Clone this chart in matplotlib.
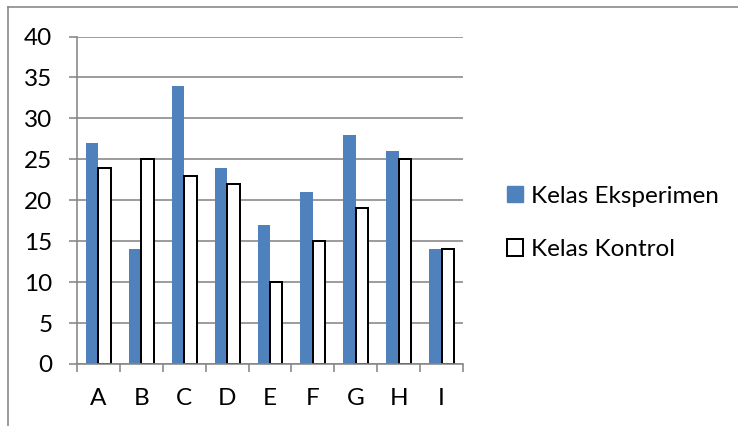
import numpy as np
import matplotlib
matplotlib.use("Agg")
import matplotlib.pyplot as plt
from matplotlib.lines import Line2D
import matplotlib.patches as mpatches

categories = ["A", "B", "C", "D", "E", "F", "G", "H", "I"]
eksperimen = [27, 14, 34, 24, 17, 21, 28, 26, 14]
kontrol = [24, 25, 23, 22, 10, 15, 19, 25, 14]
y_ticks = [0, 5, 10, 15, 20, 25, 30, 35, 40]

BLUE = "#4F81BD"
GRID = "#868686"
PX = 72 / 100  # one pixel in points at dpi=100
FS = 17.5

plt.rcParams["font.family"] = ["Lato", "DejaVu Sans"]

fig = plt.figure(figsize=(7.38, 4.26), dpi=100)
ax = fig.add_axes([77 / 738, 1 - 364 / 426, 386 / 738, (364 - 36.5) / 426])

x = np.arange(len(categories))
w = 0.29
ax.bar(x - w / 2, eksperimen, w, color=BLUE, linewidth=0, zorder=2)
ax.bar(x + w / 2, kontrol, w, color="white", edgecolor="black",
       linewidth=2 * PX, zorder=2)

ax.set_xlim(-0.5, len(categories) - 0.5)
ax.set_ylim(0, 40)
ax.set_yticks(y_ticks)
ax.yaxis.grid(True, color=GRID, linewidth=1.6 * PX, zorder=0)
ax.set_axisbelow(True)

ax.set_xticks(x)
ax.set_xticklabels(categories)
ax.set_xticks(np.arange(-0.5, len(categories)), minor=True)
ax.tick_params(axis="x", which="major", length=0, pad=17, labelsize=FS)
ax.tick_params(axis="x", which="minor", length=8 * PX, width=1.6 * PX,
               color=GRID, direction="out")
ax.tick_params(axis="y", length=8 * PX, width=1.6 * PX, color=GRID,
               pad=12, labelsize=FS)

for side in ["top", "right"]:
    ax.spines[side].set_visible(False)
for side in ["left", "bottom"]:
    ax.spines[side].set_color(GRID)
    ax.spines[side].set_linewidth(1.6 * PX)
    ax.spines[side].set_zorder(3)

handles = [
    mpatches.Patch(facecolor=BLUE, edgecolor=BLUE, label="Kelas Eksperimen"),
    mpatches.Patch(facecolor="white", edgecolor="black", linewidth=2 * PX,
                   label="Kelas Kontrol"),
]
fig.legend(handles=handles, loc="center left",
           bbox_to_anchor=(485 / 738, 1 - 223 / 426), frameon=False,
           fontsize=FS, handlelength=0.66, handleheight=0.66,
           handletextpad=0.32, labelspacing=1.33)

# outer chart border (top and left edges only)
fig.add_artist(Line2D([7.5 / 738, 1], [1 - 6.5 / 426, 1 - 6.5 / 426],
                      color=GRID, linewidth=1.6 * PX))
fig.add_artist(Line2D([7.5 / 738, 7.5 / 738], [1 - 6.5 / 426, 0],
                      color=GRID, linewidth=1.6 * PX))

fig.savefig("out.png", dpi=100)
